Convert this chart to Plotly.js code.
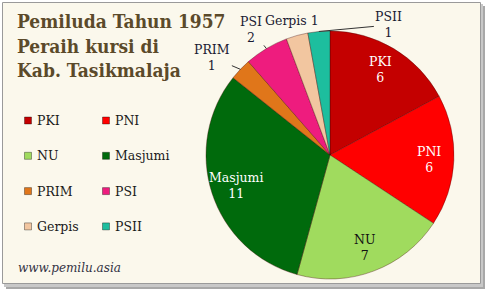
<!DOCTYPE html>
<html><head><meta charset="utf-8">
<script src="https://cdn.plot.ly/plotly-3.0.1.min.js"></script>
<style>html,body{margin:0;padding:0;background:#fff;} #chart{width:486px;height:292px;}</style>
</head><body><div id="chart"></div>
<script>
// ---- data ----
const categories = ['PKI', 'PNI', 'NU', 'Masjumi', 'PRIM', 'PSI', 'Gerpis', 'PSII'];
const seats = [6, 6, 7, 11, 1, 2, 1, 1];
const sliceColors = ['#C40000', '#FF0000', '#A0DB5E', '#006A0C', '#E0761A', '#EE1C7E', '#F2C6A0', '#1DBE9E'];
const titleLines = ['Pemiluda Tahun 1957', 'Peraih kursi di', 'Kab. Tasikmalaja'];
const sourceText = 'www.pemilu.asia';

// ---- styling / layout constants ----
const W = 486, H = 292;
const px = x => x / W;
const py = y => 1 - y / H;
const serif = '"DejaVu Serif", serif';
const pieCx = 330, pieCy = 155, pieR = 124;           // pie geometry in pixels
const labelColors = ['#ffffff', '#ffffff', '#111111', '#ffffff', '#1a1a33', '#1a1a33', '#1a1a33', '#1a1a33'];
// outside labels: pixel offset of the label from the slice rim (null = inside label)
const outsideOffsets = [null, null, null, null, [-28, -12], [-15, -19], [-5, -14.5], [70, -6.5]];
const insideRadius = 0.8;

const shapes = [
  {type: 'rect', xref: 'paper', yref: 'paper', x0: px(6), x1: px(485), y0: py(289), y1: py(6),
   fillcolor: '#a8a8a8', line: {width: 0}, layer: 'below'},
  {type: 'rect', xref: 'paper', yref: 'paper', x0: px(4), x1: px(483), y0: py(287), y1: py(4),
   fillcolor: '#c8c8c8', line: {width: 0}, layer: 'below'},
  {type: 'rect', xref: 'paper', yref: 'paper', x0: px(2.5), x1: px(480.5), y0: py(283.5), y1: py(2.5),
   fillcolor: '#FBF8EC', line: {color: '#9a9a9a', width: 1}, layer: 'below'}
];
const annotations = [];

// legend (2 columns) built from the category arrays
categories.forEach((c, i) => {
  const col = i % 2, row = Math.floor(i / 2);
  const mx = 25 + col * 78, my = 120.5 + row * 35.3;
  shapes.push({type: 'rect', xref: 'paper', yref: 'paper',
    x0: px(mx - 0.5), x1: px(mx + 6.5), y0: py(my + 3.5), y1: py(my - 3.5),
    fillcolor: sliceColors[i], line: {color: 'rgba(0,0,0,0.35)', width: 1}});
  annotations.push({xref: 'paper', yref: 'paper', x: px(mx + 10), y: py(my), xanchor: 'left', yanchor: 'middle',
    text: c, showarrow: false, font: {family: serif, size: 12.5, color: '#1a1a1a'}});
});

// slice labels, placed from the cumulative values
const total = seats.reduce((a, b) => a + b, 0);
let cum = 0;
seats.forEach((v, i) => {
  const theta = (cum + v / 2) / total * 2 * Math.PI;
  cum += v;
  const off = outsideOffsets[i];
  const r = off ? pieR : pieR * insideRadius;
  const x = pieCx + r * Math.sin(theta), y = pieCy - r * Math.cos(theta);
  const text = categories[i] === 'Gerpis' ? categories[i] + ' ' + v : categories[i] + '<br>' + v;
  const font = {family: serif, size: 12.5, color: labelColors[i]};
  if (off) {
    annotations.push({xref: 'paper', yref: 'paper', x: px(x), y: py(y), text: text, font: font,
      showarrow: true, ax: off[0], ay: off[1], arrowhead: 0, arrowwidth: 1,
      arrowcolor: categories[i] === 'Gerpis' ? 'rgba(0,0,0,0)' : '#333333', standoff: 0, startstandoff: 0});
  } else {
    annotations.push({xref: 'paper', yref: 'paper', x: px(x), y: py(y), xanchor: 'center', yanchor: 'middle',
      text: text, font: font, showarrow: false});
  }
});

// source
annotations.push({xref: 'paper', yref: 'paper', x: px(16), y: py(268), xanchor: 'left', yanchor: 'middle',
  text: '<i>' + sourceText + '</i>', showarrow: false, font: {family: serif, size: 12, color: '#333344'}});

const trace = {
  type: 'pie',
  labels: categories,
  values: seats,
  sort: false,
  direction: 'clockwise',
  rotation: 0,
  marker: {colors: sliceColors, line: {color: 'rgba(60,0,0,0.35)', width: 1}},
  textinfo: 'none',
  showlegend: false,
  hoverinfo: 'none',
  domain: {x: [px(pieCx - pieR), px(pieCx + pieR)], y: [py(pieCy + pieR), py(pieCy - pieR)]}
};

const layout = {
  width: W, height: H,
  margin: {l: 0, r: 0, t: 0, b: 0},
  paper_bgcolor: '#ffffff',
  showlegend: false,
  title: {
    text: titleLines.join('<br>'),
    x: px(17), xref: 'paper', xanchor: 'left',
    y: py(28), yref: 'container', yanchor: 'top',
    font: {family: '"DejaVu Serif Condensed", "DejaVu Serif", serif', size: 19, weight: 'bold', color: '#5B4A2A'}
  },
  shapes: shapes,
  annotations: annotations
};

Plotly.newPlot('chart', [trace], layout, {displayModeBar: false, staticPlot: true});
</script>
</body></html>
